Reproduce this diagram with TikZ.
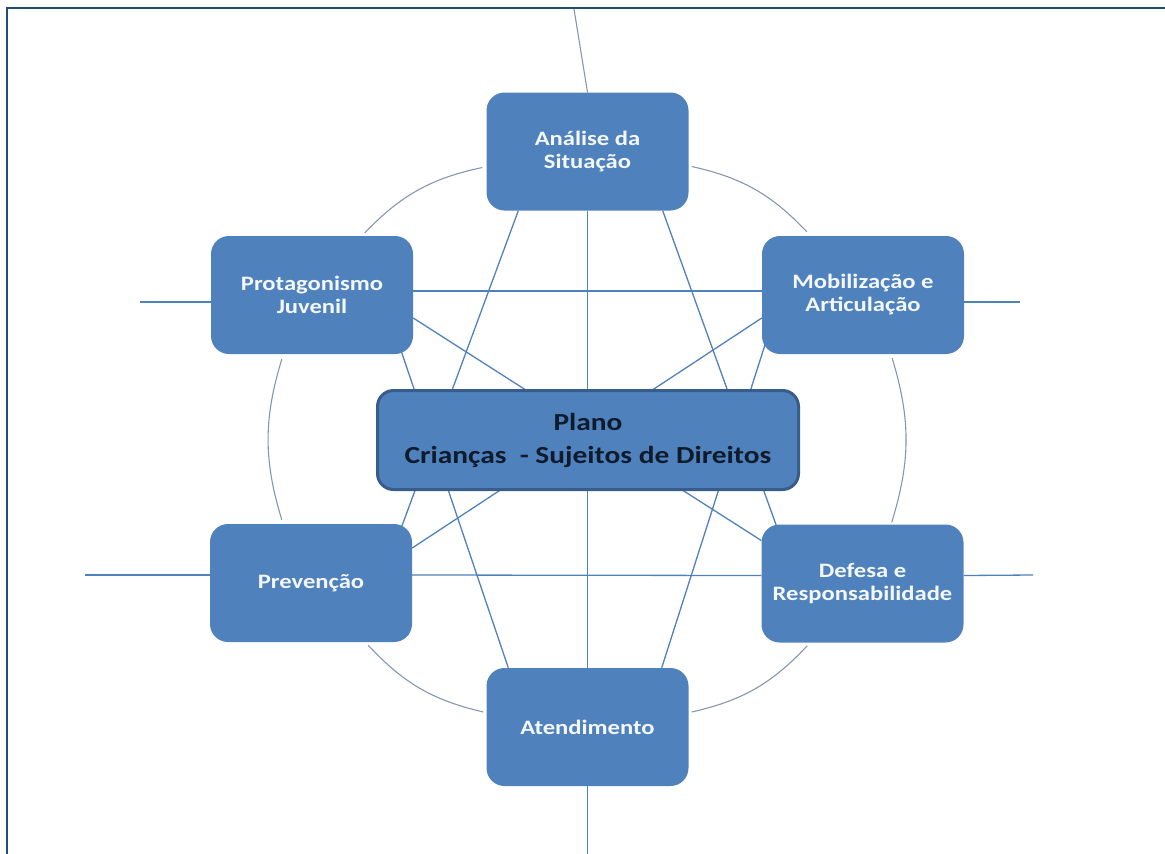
\documentclass[tikz,border=0pt]{standalone}
\usepackage{fontspec}
\setmainfont{Carlito}[FakeStretch=1.2]
\usetikzlibrary{calc,backgrounds}
\definecolor{boxblue}{HTML}{4F81BD}
\definecolor{edgeblue}{HTML}{385D8A}
\definecolor{linkblue}{HTML}{4F81BD}
\definecolor{arcgrey}{HTML}{8497B0}
\definecolor{framebl}{HTML}{1F4E79}
\definecolor{labelwhite}{HTML}{F4F8FC}
\definecolor{labeldark}{HTML}{0E1B2C}

\begin{document}
\begin{tikzpicture}[x=1pt,y=-1pt,
  area/.style={rounded corners=18pt, fill=boxblue, minimum width=202pt,
    minimum height=118pt, inner sep=0pt, align=center, text=labelwhite,
    font=\fontsize{20.5}{23}\selectfont\bfseries},
  hub/.style={rounded corners=16pt, fill=boxblue, draw=edgeblue, line width=3pt,
    minimum width=421pt, minimum height=99pt, inner sep=0pt, align=center,
    text=labeldark, font=\fontsize{24.5}{33}\selectfont\bfseries},
  link/.style={draw=linkblue, line width=1.3pt},
  ring/.style={draw=arcgrey, line width=1.1pt},
]
\useasboundingbox (0,0) rectangle (1165,854);

% page frame (top and left edges)
\draw[framebl, line width=2.5pt] (7,854) -- (7,8) -- (1165,8);

% the six action areas and the central plan
\node[area] (A) at (587.5,151.5) {Análise da\\Situação};
\node[area] (J) at (312,295) {Protagonismo\\Juvenil};
\node[area] (M) at (863,295) {Mobilização e\\Articulação};
\node[area] (P) at (311,583) {Prevenção};
\node[area] (D) at (862.5,583.5) {Defesa e\\Responsabilidade};
\node[area] (T) at (587.5,727) {Atendimento};
\node[hub] (C) at (588,440) {Plano\\Crianças\ \ - Sujeitos de Direitos};

% free ends of the outer spokes
\coordinate (tp) at (574,9);
\coordinate (bt) at (587.5,854);
\coordinate (ql) at (140,302);
\coordinate (qr) at (1020,302);
\coordinate (pl) at (85,575);
\coordinate (pr) at (1033,575);

\begin{scope}[on background layer]
  % outer spokes
  \draw[ring] (A.north) -- (tp);
  \draw[link] (T.south) -- (bt);
  \draw[link] ($(J.west)+(0,7)$) -- (ql);
  \draw[link] ($(M.east)+(0,7)$) -- (qr);
  \draw[link] ($(P.west)+(0,-8)$) -- (pl);
  \draw[link] ($(D.east)+(0,-8)$) -- (pr);

  % cross links
  \draw[link] (A.south) -- (T.north);
  \draw[link] ($(J.east)+(0,-4)$) -- ($(M.west)+(0,-4)$);
  \draw[link] ($(P.east)+(0,-8)$) -- ($(D.west)+(0,-8)$);
  \draw[link] ($(A.south west)+(32,0)$) -- ($(P.north east)+(-15,15)$);
  \draw[link] ($(A.south east)+(-26,0)$) -- ($(D.north west)+(20,15)$);
  \draw[link] ($(J.south east)+(-16,-15)$) -- ($(T.north west)+(22,0)$);
  \draw[link] ($(M.south west)+(5,-15)$) -- ($(T.north east)+(-27,0)$);
  \draw[link] ($(J.east)+(0,23)$) -- ($(D.west)+(0,-43)$);
  \draw[link] ($(M.west)+(0,23)$) -- ($(P.east)+(0,-35)$);

  % ring arcs between neighbouring areas
  \draw[ring] ($(A.east)+(3,15)$) to[bend left=17] ($(M.north west)+(45,-4)$);
  \draw[ring] ($(M.south east)+(-72,4)$) to[bend left=17] ($(D.north east)+(-72,-2)$);
  \draw[ring] ($(D.south west)+(46,3)$) to[bend left=17] ($(T.east)+(3,-15)$);
  \draw[ring] ($(T.west)+(-3,-15)$) to[bend left=17] ($(P.south east)+(-44,3)$);
  \draw[ring] ($(P.north west)+(72,-4)$) to[bend left=17] ($(J.south west)+(71,5)$);
  \draw[ring] ($(J.north west)+(154,-3)$) to[bend left=17] ($(A.west)+(-4,16)$);
\end{scope}
\end{tikzpicture}
\end{document}
